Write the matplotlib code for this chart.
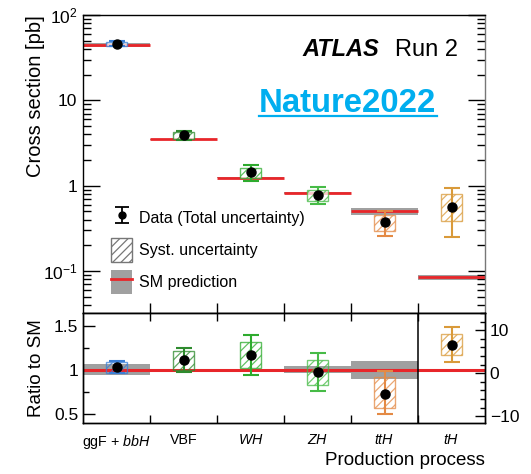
import matplotlib
matplotlib.use("Agg")
import matplotlib.pyplot as plt
import numpy as np
from matplotlib.patches import Rectangle, Patch
from matplotlib.lines import Line2D
from matplotlib.ticker import FixedLocator, FuncFormatter, LogLocator, NullFormatter, AutoMinorLocator

plt.rcParams['font.family'] = ['Liberation Sans', 'DejaVu Sans']
plt.rcParams['mathtext.fontset'] = 'custom'
plt.rcParams['mathtext.rm'] = 'Liberation Sans'
plt.rcParams['mathtext.it'] = 'Liberation Sans:italic'
plt.rcParams['mathtext.bf'] = 'Liberation Sans:bold'
plt.rcParams['hatch.linewidth'] = 0.9

# ---------------- data ----------------
categories = ['ggF + $bbH$', 'VBF', '$WH$', '$ZH$', '$ttH$', '$tH$']
colors = ['#3b7fd6', '#2e8b2e', '#2eab2e', '#47bb47', '#e48a45', '#d99a3a']

xs_data = [46.0, 3.91, 1.43, 0.785, 0.372, 0.568]
xs_tot_hi = [49.2, 4.39, 1.73, 0.966, 0.50, 0.94]
xs_tot_lo = [43.0, 3.45, 1.15, 0.617, 0.255, 0.248]
xs_syst_hi = [48.7, 4.28, 1.61, 0.90, 0.458, 0.80]
xs_syst_lo = [43.4, 3.52, 1.23, 0.67, 0.292, 0.39]
sm_xs = [44.7, 3.52, 1.24, 0.82, 0.51, 0.086]
sm_xs_hi = [47.3, 3.56, 1.26, 0.85, 0.55, 0.090]
sm_xs_lo = [42.2, 3.48, 1.22, 0.79, 0.458, 0.078]

ratio = [1.03, 1.11, 1.17, 0.974, 0.732]
ratio_tot_hi = [1.10, 1.246, 1.40, 1.196, 0.992]
ratio_tot_lo = [0.963, 0.98, 0.943, 0.76, 0.498]
ratio_syst_hi = [1.09, 1.215, 1.32, 1.113, 0.917]
ratio_syst_lo = [0.97, 1.00, 1.02, 0.834, 0.573]
sm_ratio_hi = [1.065, 1.012, 1.012, 1.045, 1.10]
sm_ratio_lo = [0.947, 0.988, 0.988, 0.97, 0.90]

th_mu = 6.5
th_mu_tot = [2.6, 10.8]
th_mu_syst = [4.3, 9.2]

# ---------------- figure ----------------
W, H = 531, 474
fig = plt.figure(figsize=(W / 100, H / 100), dpi=100)
def fx(px): return px / W
def fy(py): return 1 - py / H

L, R = 83, 485
ax = fig.add_axes([fx(L), fy(313), fx(R - L), fy(15) - fy(313)])
axr = fig.add_axes([fx(L), fy(423), fx(R - L), fy(313) - fy(423)])

ncat = len(categories)
centers = np.arange(ncat) + 0.5
box_w = 0.32
gray = '#a0a0a0'
red = '#e8262a'

# top panel
for i in range(ncat):
    c = colors[i]
    ax.add_patch(Rectangle((i, sm_xs_lo[i]), 1, sm_xs_hi[i] - sm_xs_lo[i],
                           facecolor=gray, edgecolor='none', zorder=1))
    ax.hlines(sm_xs[i], i, i + 1, color=red, lw=2.0, zorder=2)
    ax.add_patch(Rectangle((centers[i] - box_w / 2, xs_syst_lo[i]), box_w,
                           xs_syst_hi[i] - xs_syst_lo[i], facecolor='white',
                           edgecolor=c, hatch='////', lw=1.0, alpha=0.75, zorder=3))
    ax.errorbar([centers[i]], [xs_data[i]],
                yerr=[[xs_data[i] - xs_tot_lo[i]], [xs_tot_hi[i] - xs_data[i]]],
                fmt='none', ecolor=c, elinewidth=1.5, capsize=5.5, capthick=1.5, zorder=4)
    ax.plot([centers[i]], [xs_data[i]], 'o', color='black', ms=6.5, zorder=5)

ax.set_yscale('log')
ax.set_ylim(0.0323, 100)
ax.set_xlim(0, ncat)
ax.yaxis.set_major_locator(LogLocator(base=10, numticks=10))
ax.yaxis.set_minor_locator(LogLocator(base=10, subs=np.arange(2, 10), numticks=20))
lab = {100: '$10^2$', 10: '10', 1: '1', 0.1: '$10^{-1}$'}
ax.yaxis.set_major_formatter(FuncFormatter(lambda v, p: next((s for k, s in lab.items() if abs(v - k) / k < 1e-6), '')))
ax.yaxis.set_minor_formatter(NullFormatter())
ax.xaxis.set_major_locator(FixedLocator([1, 2, 3, 4, 5]))
ax.xaxis.set_major_formatter(NullFormatter())
ax.tick_params(axis='x', which='major', direction='in', length=7, width=1, bottom=True, top=False)
ax.tick_params(axis='y', which='major', direction='in', length=12, width=1, left=True, right=True, labelsize=12.5, pad=4)
ax.tick_params(axis='y', which='minor', direction='in', length=6, width=1, left=True, right=True)
ax.set_ylabel('Cross section [pb]', fontsize=14.5, loc='top')
ax.yaxis.set_label_coords((45 - L) / (R - L), 1.0)
ax.spines['right'].set_color('#777777')

# legend
h_err = ax.errorbar([np.nan], [np.nan], yerr=[[1], [1]], fmt='o', color='black', ms=5,
                    elinewidth=1.3, capsize=5, capthick=1.3)
h_syst = Patch(facecolor='white', edgecolor='#777777', hatch='////', lw=1.0)
h_sm = (Patch(facecolor=gray, edgecolor='none'), Line2D([], [], color=red, lw=2))
ax.legend([h_err, h_syst, h_sm],
          ['Data (Total uncertainty)', 'Syst. uncertainty', 'SM prediction'],
          loc='upper left', bbox_to_anchor=(0.055, 0.38), frameon=False,
          fontsize=11.5, handlelength=1.3, handleheight=1.9, labelspacing=0.52,
          handletextpad=0.4, borderaxespad=0)

fig.text(fx(302), fy(56), 'ATLAS', fontsize=17, fontweight='bold', fontstyle='italic',
         ha='left', va='baseline')
fig.text(fx(395), fy(56), 'Run 2', fontsize=17, ha='left', va='baseline')
fig.text(fx(259), fy(112), 'Nature2022', fontsize=23.7, fontweight='bold',
         color='#00aeef', ha='left', va='baseline')
fig.add_artist(Line2D([fx(259), fx(437)], [fy(116), fy(116)], color='#00aeef', lw=1.6))

# ratio panel
for i in range(ncat - 1):
    c = colors[i]
    axr.add_patch(Rectangle((i, sm_ratio_lo[i]), 1, sm_ratio_hi[i] - sm_ratio_lo[i],
                            facecolor=gray, edgecolor='none', zorder=1))
    axr.add_patch(Rectangle((centers[i] - box_w / 2, ratio_syst_lo[i]), box_w,
                            ratio_syst_hi[i] - ratio_syst_lo[i], facecolor='none',
                            edgecolor=c, hatch='////', lw=1.0, alpha=0.75, zorder=3))
    axr.errorbar([centers[i]], [ratio[i]],
                 yerr=[[ratio[i] - ratio_tot_lo[i]], [ratio_tot_hi[i] - ratio[i]]],
                 fmt='none', ecolor=c, elinewidth=1.5, capsize=5.5, capthick=1.5, zorder=4)
    axr.plot([centers[i]], [ratio[i]], 'o', color='black', ms=6.5, zorder=5)
axr.axhline(1, color=red, lw=2.2, zorder=2)
axr.axvline(5, color='black', lw=1.1, zorder=2)
axr.set_xlim(0, ncat)
axr.set_ylim(0.40, 1.645)
axr.set_yticks([0.5, 1, 1.5])
axr.set_yticklabels(['0.5', '1', '1.5'])
axr.yaxis.set_minor_locator(AutoMinorLocator(2))
axr.set_xticks(centers)
axr.set_xticklabels(categories, fontsize=10.3)
axr.set_xticks([1, 2, 3, 4, 5], minor=True)
axr.tick_params(axis='x', which='major', length=0, pad=7)
axr.tick_params(axis='x', which='minor', direction='in', length=6, width=1, top=True, bottom=True)
axr.tick_params(axis='y', which='major', direction='in', length=8.5, width=1, labelsize=12.5, right=False)
axr.tick_params(axis='y', which='minor', direction='in', length=4, width=1, right=False)
axr.set_ylabel('Ratio to SM', fontsize=13.5)
axr.yaxis.set_label_coords((45 - L) / (R - L), 0.5)
axr.set_xlabel('Production process', fontsize=13.5, loc='right')
axr.xaxis.set_label_coords(1.0, (423 - 452) / 110)

# tH on right axis
axt = axr.twinx()
axt.set_ylim(-11.6, 14.0)
axt.add_patch(Rectangle((centers[5] - box_w / 2, th_mu_syst[0]), box_w,
                        th_mu_syst[1] - th_mu_syst[0], facecolor='none',
                        edgecolor=colors[5], hatch='////', lw=1.0, alpha=0.75, zorder=3))
axt.errorbar([centers[5]], [th_mu], yerr=[[th_mu - th_mu_tot[0]], [th_mu_tot[1] - th_mu]],
             fmt='none', ecolor=colors[5], elinewidth=1.5, capsize=5.5, capthick=1.5, zorder=4)
axt.plot([centers[5]], [th_mu], 'o', color='black', ms=6.5, zorder=5)
axt.set_yticks([-10, 0, 10])
axt.set_yticklabels(['\u221210', '0', '10'])
axt.yaxis.set_minor_locator(AutoMinorLocator(5))
axt.tick_params(axis='y', which='major', direction='in', length=7, width=1, labelsize=12.5)
axt.tick_params(axis='y', which='minor', direction='in', length=3.5, width=1)

for a in (ax, axr, axt):
    for s in a.spines.values():
        s.set_linewidth(1.0)
ax.spines['right'].set_color('#777777')

fig.savefig('out.png', dpi=100)
